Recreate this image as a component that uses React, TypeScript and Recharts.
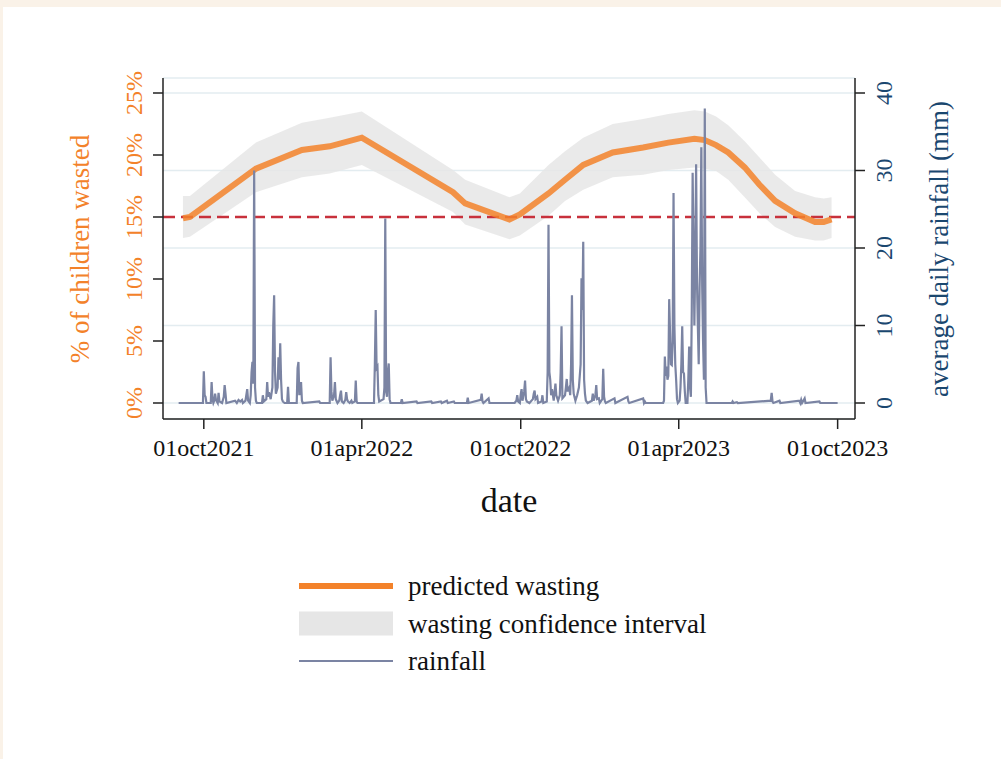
import {
  ComposedChart, Line, Area, XAxis, YAxis, CartesianGrid, ReferenceLine,
} from "recharts";

// x values are days since 01oct2021
const TICK_DAYS = [0, 182, 365, 547, 730];
const TICK_LABELS = ["01oct2021", "01apr2022", "01oct2022", "01apr2023", "01oct2023"];
const PCT_TICKS = [0, 5, 10, 15, 20, 25];
const MM_TICKS = [0, 10, 20, 30, 40];
const THRESHOLD = 15;

// predicted wasting (%) with confidence band
const WASTE_DAY = [-24, -16, 60, 113, 145, 182, 287, 301, 352, 364, 397, 416, 437, 471, 506, 535, 565, 577, 590, 604, 623, 640, 658, 681, 704, 714, 723];
const WASTE_PRED = [14.9, 15.0, 18.9, 20.4, 20.7, 21.4, 17.0, 16.1, 14.8, 15.2, 16.9, 18.0, 19.2, 20.2, 20.6, 21.0, 21.3, 21.2, 20.8, 20.2, 19.0, 17.6, 16.3, 15.3, 14.6, 14.6, 14.8];
const WASTE_HI = [16.7, 16.7, 21.0, 22.6, 23.0, 23.5, 18.8, 18.0, 16.6, 16.9, 19.2, 20.3, 21.4, 22.5, 22.9, 23.3, 23.6, 23.5, 23.1, 22.4, 21.1, 19.8, 18.4, 17.1, 16.6, 16.5, 16.6];
const WASTE_LO = [13.3, 13.4, 17.0, 18.2, 18.5, 19.2, 15.4, 14.4, 13.2, 13.5, 15.1, 16.3, 17.2, 18.2, 18.4, 18.8, 19.0, 18.9, 18.7, 18.0, 16.6, 15.3, 14.2, 13.4, 13.1, 13.1, 13.3];

// daily rainfall (mm): [day, mm]
const RAIN: [number, number][] = [
  [-29, 0], [-1, 0], [0, 4.1], [1, 1.0], [2, 0.8], [3, 0], [8, 0], [9, 2.7], [10, 0.5], [11, 0],
  [12, 0.3], [13, 1.2], [14, 0.4], [16, 0], [17, 1.3], [18, 0.2], [21, 0], [23, 0.8], [24, 2.3], [25, 1.2],
  [26, 0], [36, 0.3], [38, 0], [40, 0.4], [42, 0.2], [44, 0.4], [45, 0], [48, 0.3], [50, 1.8], [51, 0.3],
  [53, 0], [54, 1.0], [55, 4.0], [56, 5.3], [57, 2.5], [58, 30.0], [59, 2.0], [60, 0.3], [61, 0], [67, 0],
  [68, 1.0], [69, 0.2], [72, 0.5], [73, 2.7], [74, 0.8], [75, 1.4], [77, 0.5], [79, 2.0], [80, 10.0], [81, 13.9],
  [82, 4.0], [83, 1.2], [85, 2.0], [86, 5.9], [87, 3.0], [88, 7.7], [89, 3.0], [90, 0.5], [91, 0.2], [93, 0],
  [96, 0], [97, 2.1], [98, 0], [107, 0], [108, 4.5], [109, 5.3], [110, 1.0], [111, 2.0], [112, 2.7], [113, 0.3],
  [114, 0], [133, 0.2], [134, 0], [145, 0], [146, 5.9], [147, 1.5], [148, 0.3], [150, 1.0], [151, 2.7], [152, 0.5],
  [154, 0], [156, 0.3], [157, 1.0], [158, 1.6], [159, 0.2], [161, 0], [163, 0.4], [164, 1.4], [165, 0.5], [166, 0.2],
  [168, 0], [170, 0.3], [171, 0], [174, 0.2], [175, 2.9], [176, 0.2], [177, 0], [196, 0], [197, 5.0], [198, 12.0],
  [199, 4.5], [200, 4.7], [201, 1.0], [202, 0.2], [207, 0.5], [208, 2.0], [209, 23.8], [210, 1.5], [211, 0.8], [212, 4.0],
  [213, 5.1], [214, 0.5], [215, 0], [227, 0], [228, 0.5], [229, 0], [245, 0.2], [246, 0], [262, 0.2], [263, 0],
  [273, 0.2], [274, 0], [280, 0.3], [281, 0], [288, 0.2], [289, 0], [303, 0], [304, 0.7], [305, 0], [319, 0.4],
  [320, 1.2], [321, 0.2], [322, 0], [328, 0.6], [329, 0], [358, 0], [360, 0.3], [361, 1.0], [362, 0.2], [364, 0],
  [365, 1.1], [366, 1.8], [367, 0.3], [369, 1.5], [370, 2.9], [371, 0.5], [372, 0.2], [375, 0], [379, 0.5], [380, 1.2],
  [381, 1.6], [382, 0.5], [384, 0.8], [385, 0], [389, 0.2], [390, 1.0], [391, 0], [395, 0.2], [396, 4.0], [397, 23.0],
  [398, 4.0], [399, 3.0], [400, 1.0], [401, 1.8], [403, 0.3], [405, 2.5], [406, 1.0], [408, 0.3], [410, 1.0], [411, 4.0],
  [412, 9.9], [413, 0.6], [416, 1.0], [417, 2.0], [418, 3.1], [419, 1.5], [421, 2.0], [422, 1.0], [423, 5.0], [424, 13.9],
  [425, 3.0], [426, 1.2], [428, 0.3], [430, 1.0], [432, 2.0], [434, 5.0], [435, 16.1], [436, 12.0], [437, 20.8], [438, 3.0],
  [439, 1.2], [440, 0.3], [442, 0], [447, 0.3], [448, 1.2], [449, 0.3], [451, 1.0], [452, 2.3], [453, 0.5], [455, 0.6],
  [456, 0], [459, 0.5], [460, 4.4], [461, 0.8], [462, 0.2], [463, 0], [473, 0.6], [474, 0], [488, 0.8], [489, 0.2],
  [490, 0], [506, 0.6], [507, 0], [508, 0.2], [509, 0], [529, 0], [530, 0.3], [531, 6.0], [532, 3.5], [533, 4.7],
  [534, 3.0], [535, 3.5], [536, 13.4], [537, 9.0], [538, 5.0], [539, 4.9], [540, 8.0], [541, 27.1], [542, 10.0], [543, 5.0],
  [544, 3.0], [545, 0.5], [546, 0], [548, 0.3], [549, 2.0], [550, 5.0], [551, 9.9], [552, 4.0], [553, 3.8], [554, 1.5],
  [555, 0], [557, 0], [558, 3.0], [559, 7.3], [560, 2.0], [561, 0.8], [562, 12.0], [563, 29.7], [564, 20.0], [565, 10.0],
  [566, 18.0], [567, 30.8], [568, 15.7], [569, 10.0], [570, 5.0], [571, 15.0], [572, 20.0], [573, 33.0], [574, 15.0], [575, 8.0],
  [576, 3.0], [577, 38.0], [578, 2.0], [579, 0], [608, 0], [609, 0.2], [610, 0], [614, 0.1], [615, 0], [653, 0.3],
  [654, 1.3], [655, 0.2], [656, 0], [663, 0.3], [664, 0], [686, 0.3], [687, 0], [688, 0.4], [689, 0], [692, 0.6],
  [693, 0], [709, 0.2], [710, 0], [730, 0],
];

const ORANGE = "#f3822a";
const NAVY = "#1a476f";
const RAIN_COLOR = "#7b84a3";
const BAND = "#e6e6e6";
const FONT = "'Liberation Serif', 'Times New Roman', serif";

const wasteData = WASTE_DAY.map((day, i) => ({
  day, pred: WASTE_PRED[i], band: [WASTE_LO[i], WASTE_HI[i]],
}));
const rainData = RAIN.map(([day, mm]) => ({ day, mm }));

const LeftTick = ({ x, y, payload }: any) => (
  <text x={x} y={y} transform={`rotate(-90, ${x}, ${y})`} textAnchor="middle"
    fill={ORANGE} fontSize={24} fontFamily={FONT}>{payload.value}%</text>
);
const RightTick = ({ x, y, payload }: any) => (
  <text x={x} y={y} transform={`rotate(-90, ${x}, ${y})`} textAnchor="middle"
    fill={NAVY} fontSize={24} fontFamily={FONT}>{payload.value}</text>
);
const BottomTick = ({ x, y, payload }: any) => (
  <text x={x} y={y} textAnchor="middle" fill="#111" fontSize={24} fontFamily={FONT}>
    {TICK_LABELS[TICK_DAYS.indexOf(payload.value)]}
  </text>
);

const LEGEND = [
  { label: "predicted wasting", kind: "line", color: ORANGE, width: 6 },
  { label: "wasting confidence interval", kind: "rect", color: BAND, width: 24 },
  { label: "rainfall", kind: "line", color: RAIN_COLOR, width: 2.2 },
];

export default function App() {
  return (
    <div style={{ position: "absolute", left: 0, top: 0, width: 1001, height: 759, background: "#faf2e8", overflow: "hidden" }}>
      <div style={{ position: "absolute", left: 3, top: 7, width: 998, height: 752, background: "#fff" }} />
      <div style={{ position: "absolute", left: 0, top: 0 }}>
        <ComposedChart width={1001} height={759} margin={{ top: 78, right: 86, bottom: 300, left: 103 }}>
          <CartesianGrid yAxisId="mm" vertical={false} stroke="#e3ecf0" strokeWidth={1.5} />
          <XAxis type="number" dataKey="day" domain={[-47, 750]} allowDataOverflow ticks={TICK_DAYS}
            height={40} tickSize={10} tickMargin={27} tick={<BottomTick />}
            stroke="#222" strokeWidth={1.5} tickLine={{ stroke: "#222", strokeWidth: 1.5 }} />
          <YAxis yAxisId="pct" orientation="left" domain={[0, 25]} ticks={PCT_TICKS} width={60}
            padding={{ top: 15, bottom: 16 }} tickSize={10} tickMargin={11} tick={<LeftTick />}
            stroke="#222" strokeWidth={1.5} tickLine={{ stroke: "#222", strokeWidth: 1.5 }} />
          <YAxis yAxisId="mm" orientation="right" domain={[0, 40]} ticks={MM_TICKS} width={60}
            padding={{ top: 15, bottom: 16 }} tickSize={10} tickMargin={27} tick={<RightTick />}
            stroke="#222" strokeWidth={1.5} tickLine={{ stroke: "#222", strokeWidth: 1.5 }} />
          <ReferenceLine yAxisId="pct" y={THRESHOLD} stroke="#c8313c" strokeWidth={2.5}
            strokeDasharray="12 6" />
          <Area yAxisId="pct" data={wasteData} dataKey="band" type="linear" stroke="none"
            fill={BAND} fillOpacity={0.85} isAnimationActive={false} />
          <Line yAxisId="pct" data={wasteData} dataKey="pred" type="linear" stroke={ORANGE}
            strokeOpacity={0.85} strokeWidth={6} dot={false} isAnimationActive={false} />
          <Line yAxisId="mm" data={rainData} dataKey="mm" type="linear" stroke={RAIN_COLOR}
            strokeWidth={2.2} dot={false} isAnimationActive={false} />
        </ComposedChart>
      </div>
      <svg width={1001} height={759} style={{ position: "absolute", left: 0, top: 0, pointerEvents: "none" }}>
        <text x={89} y={249} transform="rotate(-90, 89, 249)" textAnchor="middle" fill={ORANGE}
          fontSize={27} fontFamily={FONT}>% of children wasted</text>
        <text x={948} y={249} transform="rotate(-90, 948, 249)" textAnchor="middle" fill={NAVY}
          fontSize={27} fontFamily={FONT}>average daily rainfall (mm)</text>
        <text x={509} y={512} textAnchor="middle" fill="#111" fontSize={34} fontFamily={FONT}>date</text>
        {LEGEND.map((item, i) => {
          const cy = 586 + i * 37.5;
          return (
            <g key={item.label}>
              {item.kind === "rect" ? (
                <rect x={299} y={cy - 12} width={94} height={24} fill={item.color} />
              ) : (
                <line x1={299} x2={393} y1={cy} y2={cy} stroke={item.color} strokeWidth={item.width} />
              )}
              <text x={408} y={cy + 9} fill="#111" fontSize={27} fontFamily={FONT}>{item.label}</text>
            </g>
          );
        })}
      </svg>
    </div>
  );
}
